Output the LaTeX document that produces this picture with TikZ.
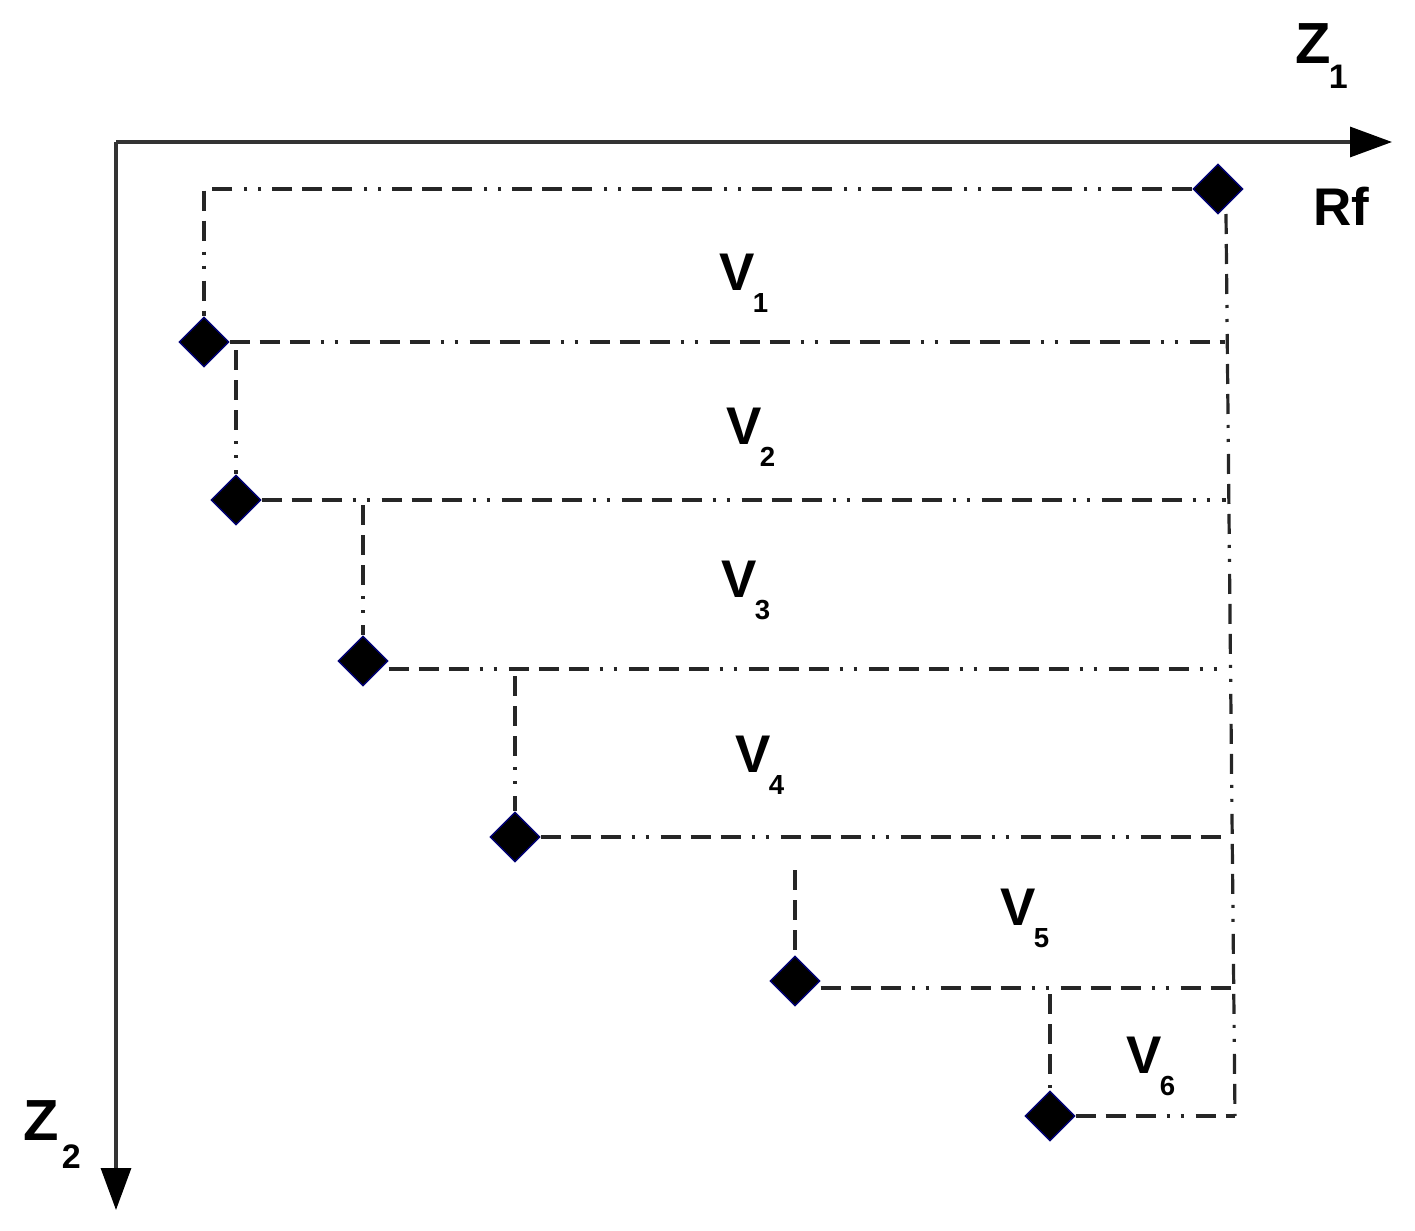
\documentclass[tikz,border=0pt]{standalone}
\usepackage{fontspec}
\setmainfont{Liberation Sans}
\usetikzlibrary{shapes.geometric,arrows.meta}
\newcommand\Lab[4]{#1\kern#3\raisebox{#4}{\fontsize{13.8}{14}\selectfont #2}}
\newcommand\ZLab[4]{#1\kern#3\raisebox{#4}{\fontsize{17}{18}\selectfont #2}}
\tikzset{
  dd/.style={line width=1.6pt, color=black!85,
    dash pattern=on 10pt off 5pt on 10pt off 5pt on 10pt off 5.5pt on 1.5pt off 5.5pt on 1.5pt off 6pt},
  dia/.style={diamond, fill=black, draw=blue!45!black, line width=0.7pt,
    minimum width=25pt, minimum height=25pt, inner sep=0pt},
  axis/.style={line width=1.6pt, color=black!80, -{Triangle[length=21pt,width=15pt,color=black]}},
  lbl/.style={anchor=base west, inner sep=0pt, font=\fontsize{26.5}{28}\selectfont\bfseries},
  zlbl/.style={anchor=base west, inner sep=0pt, font=\fontsize{29}{30}\selectfont\bfseries},
}
\begin{document}
\begin{tikzpicture}[x=0.5pt,y=-0.5pt]
\useasboundingbox (0,0) rectangle (1415,1231);
% axes
\coordinate (o) at (116,142);
\coordinate (xe) at (1392,142);
\coordinate (ye) at (116,1210);
\draw[axis] (o) -- (xe);
\draw[axis] (o) -- (ye);
\node[zlbl] (z1) at (1295,63) {\ZLab{Z}{1}{-1pt}{-12.5pt}};
\node[zlbl] (z2) at (23,1140) {\ZLab{Z}{2}{1.5pt}{-14pt}};
\node[lbl] (rf) at (1313,225) {Rf};
% diamonds
\node[dia] (d0) at (1218,189) {};
\node[dia] (d1) at (204,342) {};
\node[dia] (d2) at (236,500) {};
\node[dia] (d3) at (363,661) {};
\node[dia] (d4) at (515,837) {};
\node[dia] (d5) at (795,981) {};
\node[dia] (d6) at (1050,1116) {};
% right edge coordinates
\coordinate (rt) at (1226,214);
\coordinate (r1) at (1225,342);
\coordinate (r2) at (1226,500);
\coordinate (r3) at (1228,669);
\coordinate (r4) at (1230,837);
\coordinate (r5) at (1233,988);
\coordinate (r6) at (1235,1116);
\coordinate (t0) at (204,189);
\coordinate (a1) at (236,350);
\coordinate (a2) at (363,505);
\coordinate (a3) at (515,676);
\coordinate (a5) at (795,870);
\coordinate (a6) at (1050,994);
% connectors
\draw[dd] (d0.west) -- (t0) -- (d1.north);
\draw[dd] (rt) -- (r6);
\draw[dd] (d1.east) -- (r1);
\draw[dd] (d2.east) -- (r2);
\draw[dd] (d3.east |- r3) -- (r3);
\draw[dd] (d4.east) -- (r4);
\draw[dd] (d5.east |- r5) -- (r5);
\draw[dd] (d6.east) -- (r6);
\draw[dd] (a1) -- (d2.north);
\draw[dd] (a2) -- (d3.north);
\draw[dd] (a3) -- (d4.north);
\draw[dd] (a5) -- (d5.north);
\draw[dd] (a6) -- (d6.north);
% labels
\node[lbl] (v1) at (719,290) {\Lab{V}{1}{-1pt}{-11pt}};
\node[lbl] (v2) at (726,444) {\Lab{V}{2}{-1pt}{-11pt}};
\node[lbl] (v3) at (721,597) {\Lab{V}{3}{-1pt}{-11pt}};
\node[lbl] (v4) at (735,772) {\Lab{V}{4}{-1pt}{-11pt}};
\node[lbl] (v5) at (1000,925) {\Lab{V}{5}{-1pt}{-11pt}};
\node[lbl] (v6) at (1126,1073) {\Lab{V}{6}{-1pt}{-11pt}};
\end{tikzpicture}
\end{document}
